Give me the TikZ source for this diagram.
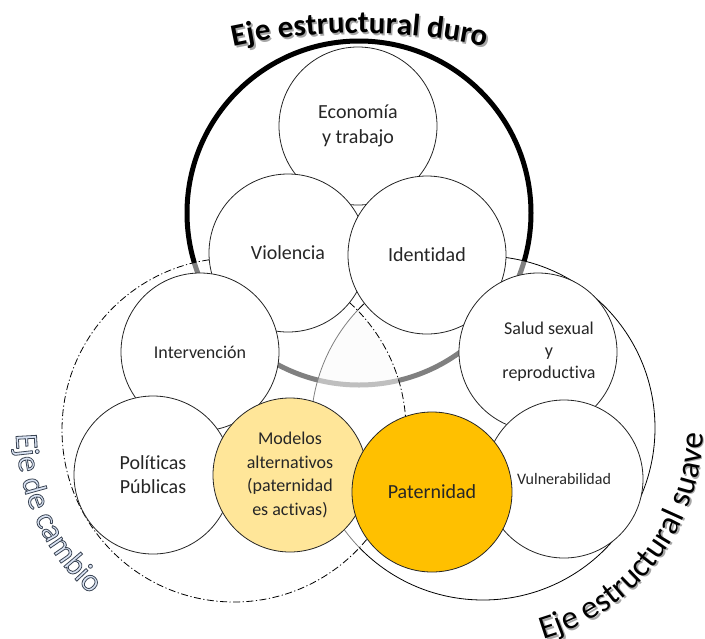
\documentclass[tikz,border=0pt]{standalone}
\usepackage{fontspec}
\setmainfont{Carlito}[Ligatures=NoCommon, Contextuals=NoAlternate]
\usetikzlibrary{decorations.text}
\definecolor{txt}{HTML}{262626}
\definecolor{modelosfill}{HTML}{FFE699}
\definecolor{paterfill}{HTML}{FFC000}
\definecolor{cambiofill}{HTML}{DAE3F3}
\newcommand\outlineon{\special{pdf:literal direct 2 Tr 0.8 w 0.23 0.27 0.33 RG}}
\begin{document}
\begin{tikzpicture}[x=1pt,y=-1pt,
  topic/.style={circle, draw=black!85, line width=0.8pt, fill=white,
    minimum size=158pt, inner sep=0pt, align=center, text=txt,
    font=\fontsize{20}{25}\selectfont},
  bigring/.style={line width=0.8pt},
  dashdot/.style={dash pattern=on 7pt off 2.5pt on 1.2pt off 2.5pt}]
\useasboundingbox (0,0) rectangle (705,638);
% triple intersection tint
\begin{scope}
  \clip (234,430) circle[radius=172];
  \clip (483,428) circle[radius=172];
  \fill[gray!9] (359,213) circle[radius=172];
\end{scope}
% hard axis
\draw[line width=5pt] (359,213) circle[radius=172];
% soft axis
\draw[bigring, fill=white, fill opacity=0.5] (483,428) circle[radius=172];
% change axis
\draw[bigring, dashdot, fill=white, fill opacity=0.5] (234,430) circle[radius=172];
% topics
\node[topic] (eco) at (358,126) {Economía\\y trabajo};
\node[topic] (vio) at (288,253) {Violencia};
\node[topic] (ide) at (427,255) {Identidad};
\node[topic, font=\fontsize{18}{22}\selectfont] (sal) at (538,352) {\hspace*{22pt}Salud sexual\\\hspace*{22pt}y\\\hspace*{22pt}reproductiva};
\node[topic, font=\fontsize{18}{22}\selectfont] (int) at (200,352) {Intervención};
\node[topic, font=\fontsize{20}{24}\selectfont] (pol) at (153,475) {Políticas\\Públicas};
\node[topic, fill=modelosfill, minimum size=154pt, font=\fontsize{18}{23.5}\selectfont] (mod) at (290,475) {Modelos\\alternativos\\(paternidad\\es activas)};
\node[topic, font=\fontsize{16}{20}\selectfont] (vul) at (564,479) {Vulnerabilidad};
\node[topic, fill=paterfill, minimum size=160pt] (pat) at (432,492) {Paternidad};
% curved titles
\path[shift={(361.5,635)}, decorate, decoration={text along path, text align=center,
  text={|\fontsize{31}{31}\selectfont\bfseries\color{black!35}|Eje estructural duro}}]
  (-103:600) arc[start angle=-103, end angle=-77, radius=600];
\path[shift={(360,633)}, decorate, decoration={text along path, text align=center,
  text={|\fontsize{31}{31}\selectfont\bfseries\color{black}|Eje estructural duro}}]
  (-103:600) arc[start angle=-103, end angle=-77, radius=600];
\path[shift={(234,430)}, decorate, decoration={text along path, text align=center,
  text={|\fontsize{32}{32}\selectfont\color{cambiofill}\outlineon|Eje de cambio}}]
  (182:218) arc[start angle=182, end angle=128, radius=218];
\path[shift={(484.5,429.5)}, decorate, decoration={text along path, text align=left,
  text={|\fontsize{33}{33}\selectfont\color{black!35}|Eje estructural suave}}]
  (74:220) arc[start angle=74, end angle=-6, radius=220];
\path[shift={(483,428)}, decorate, decoration={text along path, text align=left,
  text={|\fontsize{33}{33}\selectfont\color{black}|Eje estructural suave}}]
  (74:220) arc[start angle=74, end angle=-6, radius=220];
\end{tikzpicture}
\end{document}
